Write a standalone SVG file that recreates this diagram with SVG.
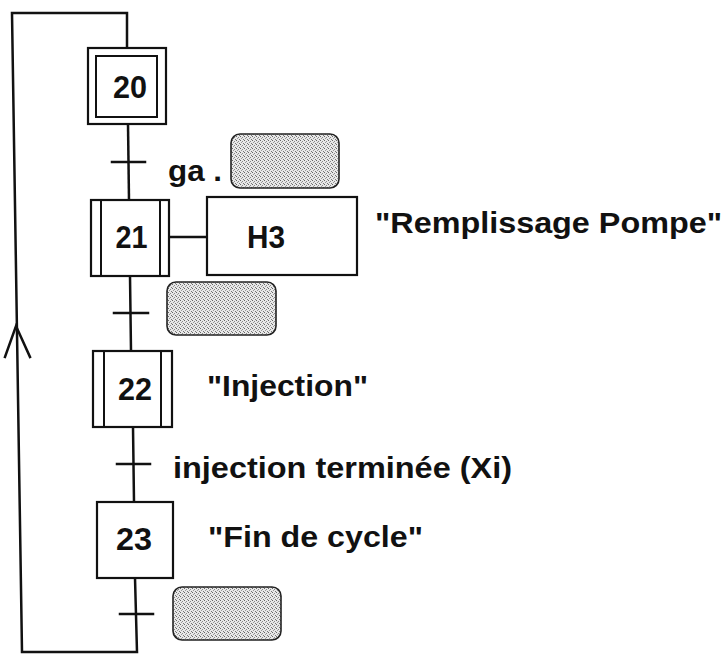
<svg xmlns="http://www.w3.org/2000/svg" width="728" height="664" viewBox="0 0 728 664">
<defs>
<pattern id="stip" width="4" height="4" patternUnits="userSpaceOnUse">
<rect width="4" height="4" fill="#e8e8e8"/>
<rect x="0" y="0" width="1" height="1" fill="#666"/>
<rect x="2" y="1" width="1" height="1" fill="#888"/>
<rect x="1" y="2" width="1" height="1" fill="#999"/>
<rect x="3" y="3" width="1" height="1" fill="#777"/>
</pattern>
</defs>
<style>
.ln{fill:none;stroke:#111;stroke-width:2.5;stroke-linecap:square}
.bx{fill:#fff;stroke:#111;stroke-width:2.2}
.in{fill:none;stroke:#111;stroke-width:2}
.gr{fill:url(#stip);stroke:#222;stroke-width:1.6}
.t{font-family:"Liberation Sans",Arial,sans-serif;font-weight:bold;font-size:30px;fill:#111}
.n{font-family:"Liberation Sans",Arial,sans-serif;font-weight:bold;font-size:31px;fill:#111}
</style>
<rect width="728" height="664" fill="#fff"/>
<g id="connectors">
<path class="ln" d="M127,48 L127,13 L12,13 L22,652 L137,652 L135,578"/>
<path class="ln" d="M128,124 L129,200"/>
<path class="ln" d="M130,276 L131,351"/>
<path class="ln" d="M133,427 L134,502"/>
<path class="ln" d="M112,162 L145,162"/>
<path class="ln" d="M114,313 L148,313"/>
<path class="ln" d="M117,464 L150,464"/>
<path class="ln" d="M120,614 L153,614"/>
<path class="ln" d="M169,237 L207,237"/>
<path class="ln" d="M5,357 L16,326 L30,357"/>
</g>
<g id="step20">
<rect class="bx" x="88" y="48" width="78" height="76"/>
<rect class="in" x="96" y="56" width="61" height="61"/>
<text class="n" x="130" y="98" text-anchor="middle" textLength="34" lengthAdjust="spacingAndGlyphs">20</text>
</g>
<g id="trans20-21">
<text class="t" x="168" y="181" textLength="54" lengthAdjust="spacingAndGlyphs">ga .</text>
<rect class="gr" x="231" y="134" width="108" height="54" rx="9"/>
</g>
<g id="step21">
<rect class="bx" x="91" y="200" width="78" height="76"/>
<line class="in" x1="101" y1="200" x2="101" y2="276"/>
<line class="in" x1="160" y1="200" x2="160" y2="276"/>
<text class="n" x="131.5" y="248" text-anchor="middle" textLength="32" lengthAdjust="spacingAndGlyphs">21</text>
</g>
<g id="action21">
<rect class="bx" x="207" y="197" width="150" height="78"/>
<text class="n" x="266" y="248" text-anchor="middle" textLength="38" lengthAdjust="spacingAndGlyphs">H3</text>
<text class="t" x="375" y="233" textLength="347" lengthAdjust="spacingAndGlyphs">"Remplissage Pompe"</text>
</g>
<g id="trans21-22">
<rect class="gr" x="167" y="282" width="109" height="53" rx="9"/>
</g>
<g id="step22">
<rect class="bx" x="93" y="351" width="79" height="76"/>
<line class="in" x1="104" y1="351" x2="104" y2="427"/>
<line class="in" x1="161" y1="351" x2="161" y2="427"/>
<text class="n" x="135" y="400" text-anchor="middle" textLength="34" lengthAdjust="spacingAndGlyphs">22</text>
<text class="t" x="207" y="396" textLength="161" lengthAdjust="spacingAndGlyphs">"Injection"</text>
</g>
<g id="trans22-23">
<text class="t" x="173" y="478" textLength="339" lengthAdjust="spacingAndGlyphs">injection terminée (Xi)</text>
</g>
<g id="step23">
<rect class="bx" x="97" y="502" width="76" height="76"/>
<text class="n" x="134" y="550" text-anchor="middle" textLength="36" lengthAdjust="spacingAndGlyphs">23</text>
<text class="t" x="208" y="547" textLength="215" lengthAdjust="spacingAndGlyphs">"Fin de cycle"</text>
</g>
<g id="trans23-20">
<rect class="gr" x="173" y="587" width="108" height="53" rx="9"/>
</g>
</svg>
